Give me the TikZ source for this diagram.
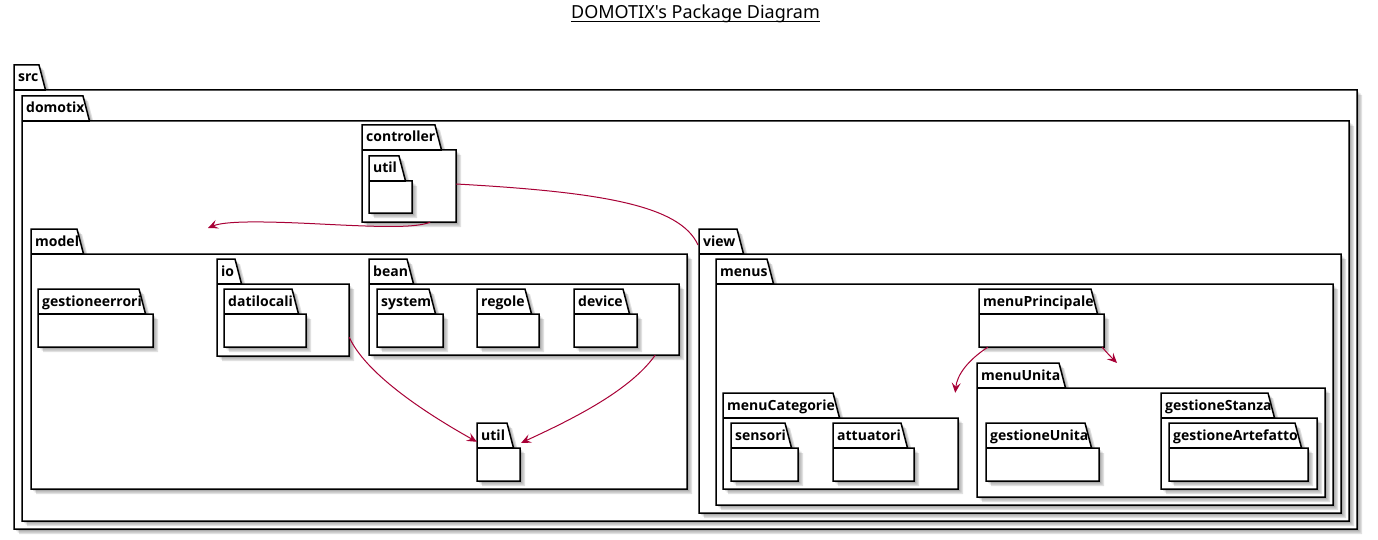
\documentclass[tikz,border=0pt]{standalone}
\usepackage{fontspec}
\setmainfont{Noto Sans}[Ligatures=TeXOff]
\newfontfamily\lblfont{Open Sans}[Ligatures=TeXOff]
\usetikzlibrary{arrows.meta,calc,fit}
\definecolor{arrowc}{HTML}{A80036}
\tikzset{
  pkgline/.style={draw=black, line width=1.5pt, line join=miter, fill=white},
  pkglabel/.style={font=\lblfont\bfseries\fontsize{14}{16}\selectfont, inner sep=0pt, anchor=base west},
  dep/.style={draw=arrowc, line width=1pt, -{Stealth[length=10pt,width=9pt,inset=4pt]}},
  link/.style={draw=arrowc, line width=1pt},
  titlefont/.style={font=\fontsize{18}{20}\selectfont, inner sep=0pt},
}
% #1 name, #2 label, #3 left x, #4 tab top y, #5 tab top-right x, #6 right x, #7 bottom y
\newcommand{\pkgdraw}[7]{%
  \foreach \sh/\op in {2/0.12,3.5/0.12,5/0.12}{%
    \fill[black,opacity=\op,shift={(\sh,\sh)}] (#3,#4) -- (#5,#4) -- (#5+6.5,#4+25) -- (#6,#4+25) -- (#6,#7) -- (#3,#7) -- cycle;}
  \filldraw[pkgline] (#3,#4) -- (#5,#4) -- (#5+6.5,#4+25) -- (#6,#4+25) -- (#6,#7) -- (#3,#7) -- cycle;
  \draw[pkgline, fill=none] (#3,#4+25) -- (#5+6.5,#4+25);
  \coordinate (#1-nw) at (#3,#4+25);
  \coordinate (#1-se) at (#6,#7);
  \node[fit=(#1-nw)(#1-se), inner sep=0pt] (#1) {};
  \node[pkglabel] (#1-label) at (#3+4,#4+17) {#2};
}
\begin{document}
\begin{tikzpicture}[x=1pt,y=-1pt]
\useasboundingbox[fill=white] (0,0) rectangle (1378,540);
% title
\node[titlefont, anchor=base] (title) at (695.5,19) {DOMOTIX's Package Diagram};
\draw[line width=0.8pt] ($(title.base west)+(0,2)$) -- ($(title.base east)+(0,2)$);
% packages
\pkgdraw{src}{src}{14}{65}{39}{1357}{529}
\pkgdraw{domotix}{domotix}{22}{96}{83}{1349}{521}
\pkgdraw{controller}{controller}{362}{125}{435}{456}{222}
\pkgdraw{cutil}{util}{369}{156}{399}{412}{213}
\pkgdraw{model}{model}{31}{229}{77}{687}{489}
\pkgdraw{gestioneerrori}{gestioneerrori}{38}{289}{139}{153}{347}
\pkgdraw{io}{io}{217}{259}{235}{349}{356}
\pkgdraw{datilocali}{datilocali}{224}{289}{292}{306}{347}
\pkgdraw{bean}{bean}{369}{259}{407}{679}{355}
\pkgdraw{system}{system}{377}{289}{429}{443}{347}
\pkgdraw{regole}{regole}{477}{289}{525}{539}{347}
\pkgdraw{device}{device}{574}{289}{623}{637}{347}
\pkgdraw{mutil}{util}{477}{423}{507}{520}{481}
\pkgdraw{view}{view}{699}{229}{737}{1341}{513}
\pkgdraw{menus}{menus}{716}{259}{767}{1333}{505}
\pkgdraw{menuPrincipale}{menuPrincipale}{979}{289}{1091}{1104}{347}
\pkgdraw{menuUnita}{menuUnita}{977}{363}{1059}{1325}{497}
\pkgdraw{gestioneUnita}{gestioneUnita}{986}{423}{1085}{1099}{481}
\pkgdraw{gestioneStanza}{gestioneStanza}{1161}{393}{1268}{1317}{489}
\pkgdraw{gestioneArtefatto}{gestioneArtefatto}{1169}{423}{1295}{1308}{481}
\pkgdraw{menuCategorie}{menuCategorie}{723}{393}{833}{958}{489}
\pkgdraw{sensori}{sensori}{731}{423}{785}{798}{481}
\pkgdraw{attuatori}{attuatori}{833}{423}{901}{914}{481}
% free ends
\coordinate (modelend) at (208,228);
\coordinate (viewend) at (698,245);
\coordinate (mcatend) at ($(menuCategorie.north east)+(-3,-25)$);
\coordinate (munitaend) at (1117,363);
% connectors
\draw[dep] ($(controller.south east)+(-26,0)$) .. controls +(-15,6) and (380,227) .. (320,224)
  .. controls (260,221) and (225,221) .. (modelend);
\draw[link] ($(controller.east)+(0,-2)$) .. controls (600,192) and (680,205) .. (viewend);
\draw[dep] ($(io.south east)+(0,-19)$) .. controls +(16,35) and (420,410) .. ($(mutil.north west)+(0,-6)$);
\draw[dep] ($(bean.south east)+(-24,0)$) .. controls +(-25,35) and (575,418) .. ($(mutil.north east)+(1,-5)$);
\draw[dep] ($(menuPrincipale.south west)+(9,0)$) .. controls +(-20,13) and (957,375) .. (mcatend);
\draw[dep] ($(menuPrincipale.south east)+(-2,0)$) .. controls +(5,6) and (1111,357) .. (munitaend);
\end{tikzpicture}
\end{document}
